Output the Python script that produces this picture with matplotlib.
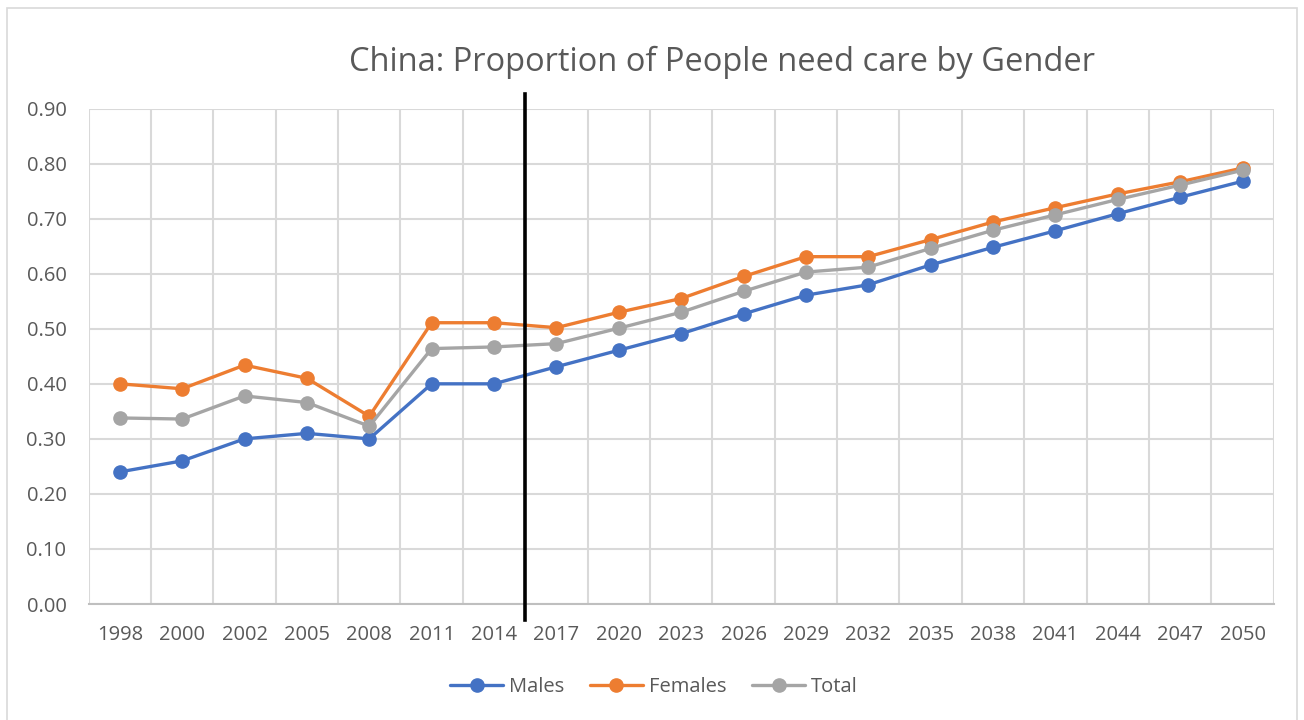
import matplotlib
matplotlib.use("Agg")
import matplotlib.pyplot as plt
from matplotlib.patches import Rectangle
from matplotlib.ticker import FixedLocator

years = ["1998", "2000", "2002", "2005", "2008", "2011", "2014", "2017", "2020", "2023",
         "2026", "2029", "2032", "2035", "2038", "2041", "2044", "2047", "2050"]
males = [0.24, 0.26, 0.30, 0.31, 0.30, 0.40, 0.40, 0.431, 0.461, 0.491,
         0.527, 0.561, 0.580, 0.616, 0.648, 0.678, 0.709, 0.739, 0.768]
females = [0.40, 0.391, 0.434, 0.410, 0.341, 0.511, 0.511, 0.502, 0.530, 0.555,
           0.595, 0.631, 0.631, 0.662, 0.694, 0.720, 0.745, 0.767, 0.792]
total = [0.338, 0.336, 0.378, 0.366, 0.323, 0.464, 0.467, 0.473, 0.501, 0.530,
         0.568, 0.603, 0.612, 0.646, 0.679, 0.707, 0.735, 0.761, 0.788]
y_ticks = [0.0, 0.1, 0.2, 0.3, 0.4, 0.5, 0.6, 0.7, 0.8, 0.9]
divider_after = "2014"

plt.rcParams['font.family'] = ['Open Sans', 'DejaVu Sans']

fig = plt.figure(figsize=(13.04, 7.2), dpi=100)
ax = fig.add_axes([88.6 / 1304, 1 - 604 / 720, (1273.7 - 88.6) / 1304, (604 - 108.6) / 720])

x = list(range(len(years)))
series = [("Males", males, "#4472C4"), ("Females", females, "#ED7D31"), ("Total", total, "#A5A5A5")]
for name, vals, col in series:
    ax.plot(x, vals, color=col, lw=2.4, marker="o", markersize=9.5, label=name,
            solid_capstyle="round", zorder=3)

ax.set_xlim(-0.5, len(years) - 0.5)
ax.set_ylim(0, 0.9)
ax.set_yticks(y_ticks)
ax.set_yticklabels([f"{v:.2f}" for v in y_ticks])
ax.set_xticks(x)
ax.set_xticklabels(years)
ax.xaxis.set_minor_locator(FixedLocator([i - 0.5 for i in range(len(years) + 1)]))
ax.grid(True, which="minor", axis="x", color="#D9D9D9", lw=1.5, zorder=0)
ax.grid(True, which="major", axis="y", color="#D9D9D9", lw=1.5, zorder=0)
ax.tick_params(axis="both", which="both", length=0, labelsize=14.5, labelcolor="#595959")
ax.tick_params(axis="x", pad=15)
ax.tick_params(axis="y", pad=16)
for s in ["top", "right", "left"]:
    ax.spines[s].set_visible(False)
ax.spines["bottom"].set_color("#BFBFBF")
ax.spines["bottom"].set_linewidth(1.5)

# divider line between historical and projected
dx = years.index(divider_after) + 0.5
ax.plot([dx, dx], [-0.032, 1.03], color="black", lw=2.6, transform=ax.get_xaxis_transform(),
        clip_on=False, zorder=5)

fig.text(722 / 1304, 1 - 62 / 720, "China: Proportion of People need care by Gender",
         ha="center", va="center", fontsize=23.5, color="#595959")

handles, labels = ax.get_legend_handles_labels()
fig.legend(handles, labels, loc="center", bbox_to_anchor=(654 / 1304, 1 - 687 / 720), ncol=3,
           frameon=False, fontsize=14.5, labelcolor="#595959", handlelength=2.6,
           columnspacing=1.3, handletextpad=0.3)

fig.patches.append(Rectangle((6.5 / 1304, -0.02), (1297 - 6.5) / 1304, (720 - 8) / 720 + 0.02,
                             transform=fig.transFigure, fill=False, edgecolor="#D9D9D9", lw=1.2))

fig.savefig("out.png", dpi=100)
